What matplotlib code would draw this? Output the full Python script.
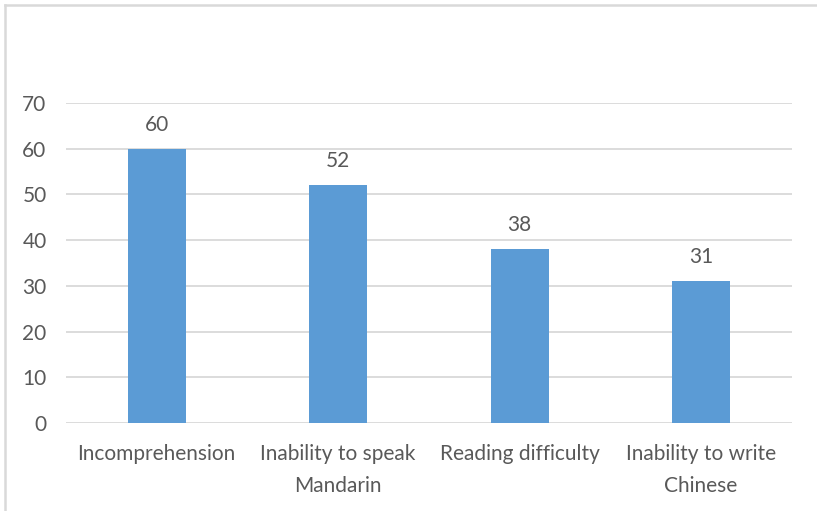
import matplotlib.pyplot as plt
from matplotlib.lines import Line2D

categories = ["Incomprehension", "Inability to speak\nMandarin", "Reading difficulty", "Inability to write\nChinese"]
values = [60, 52, 38, 31]

plt.rcParams['font.family'] = ['Lato', 'DejaVu Sans']
txt = '#595959'
fs = 15

fig = plt.figure(figsize=(8.17, 5.11), dpi=100)
ax = fig.add_axes([0.0808, 0.1722, 0.8882, 0.6262])

x = range(len(categories))
bars = ax.bar(x, values, width=0.32, color='#5B9BD5', zorder=3)
for b, v in zip(bars, values):
    ax.annotate(str(v), (b.get_x() + b.get_width() / 2, v), xytext=(0, 10),
                textcoords='offset points', ha='center', va='bottom',
                fontsize=fs, color=txt)

ax.set_xlim(-0.5, len(categories) - 0.5)
ax.set_ylim(0, 70)
ax.set_yticks(range(0, 71, 10))
ax.set_xticks(list(x))
ax.set_xticklabels(categories, fontsize=fs, color=txt, linespacing=1.75)
ax.tick_params(axis='y', labelsize=fs, labelcolor=txt, length=0, pad=14)
ax.tick_params(axis='x', length=0, pad=15)
ax.grid(axis='y', color='#D9D9D9', linewidth=1.3, zorder=0)
for s in ax.spines.values():
    s.set_visible(False)

# chart frame, top and left edges
fig.add_artist(Line2D([5 / 817, 1], [1 - 5 / 511, 1 - 5 / 511], color='#D9D9D9', lw=1.8))
fig.add_artist(Line2D([5 / 817, 5 / 817], [0, 1 - 5 / 511], color='#D9D9D9', lw=1.8))

fig.savefig('out.png', dpi=100)
